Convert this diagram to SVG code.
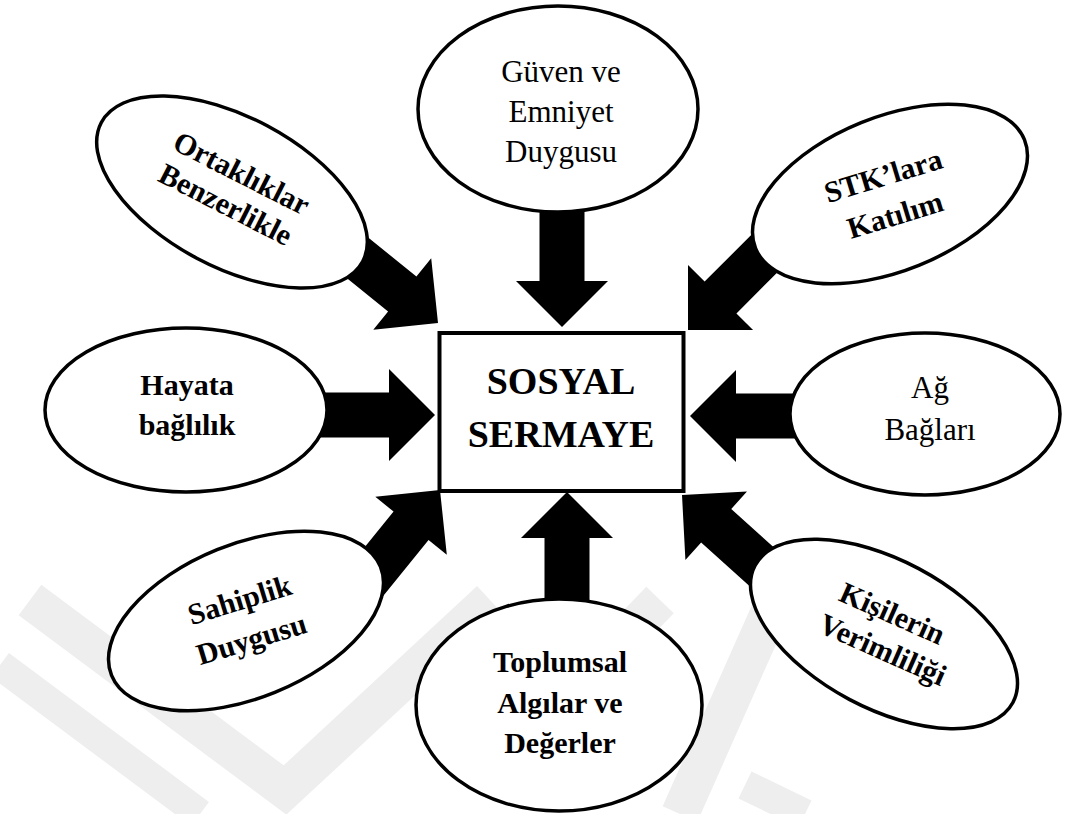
<svg xmlns="http://www.w3.org/2000/svg" width="1065" height="814" viewBox="0 0 1065 814">
<style>
  .wm { fill: none; stroke: #eeeeee; stroke-linejoin: miter; }
  .node ellipse { fill: #ffffff; stroke: #000000; stroke-width: 3.5; }
  .box { fill: #ffffff; stroke: #000000; stroke-width: 4; }
  .t { font-family: "Liberation Serif", "Times New Roman", serif; fill: #000000; text-anchor: middle; }
  .b { font-weight: bold; font-size: 30px; }
  .r { font-weight: normal; font-size: 31px; }
  .big { font-weight: bold; font-size: 38px; }
  .arrow { fill: #000000; }
</style>
<defs>
  <polygon id="arr" points="0,0 -46,-46 -46,-22.5 -120,-22.5 -120,22.5 -46,22.5 -46,46"/>
</defs>
<rect width="1065" height="814" fill="#ffffff"/>
<g id="watermark">
  <polyline class="wm" stroke-width="38" points="30,600 285,790 490,600"/>
  <polyline class="wm" stroke-width="30" points="0,665 200,814"/>
  <polyline class="wm" stroke-width="38" points="660,600 540,725"/>
  <polyline class="wm" stroke-width="38" points="775,600 680,814"/>
  <polyline class="wm" stroke-width="30" points="745,785 805,814"/>
</g>
<g id="connectors">
  <use href="#arr" class="arrow" transform="translate(562,327) rotate(90)"/>
  <use href="#arr" class="arrow" transform="translate(435,415)"/>
  <use href="#arr" class="arrow" transform="translate(690,416) rotate(180)"/>
  <use href="#arr" class="arrow" transform="translate(567,492) rotate(-90)"/>
  <use href="#arr" class="arrow" transform="translate(438,323) rotate(39)"/>
  <use href="#arr" class="arrow" transform="translate(688,330) rotate(135)"/>
  <use href="#arr" class="arrow" transform="translate(440,490) rotate(-51)"/>
  <use href="#arr" class="arrow" transform="translate(682,495) rotate(-138)"/>
</g>
<g id="center">
  <rect class="box" x="439.5" y="333" width="244" height="158"/>
  <text class="t big" x="561" y="394">SOSYAL</text>
  <text class="t big" x="561" y="447">SERMAYE</text>
</g>
<g id="guven" class="node">
  <ellipse cx="558" cy="109" rx="140" ry="103"/>
  <text class="t r" x="561" y="82">Güven ve</text>
  <text class="t r" x="561" y="122">Emniyet</text>
  <text class="t r" x="561" y="162">Duygusu</text>
</g>
<g id="ortakliklar" class="node">
  <ellipse cx="232" cy="192" rx="148" ry="75" transform="rotate(28 232 192)"/>
  <g transform="translate(232,192) rotate(27)">
    <text class="t b" font-size="31" x="0" y="-11">Ortaklıklar</text>
    <text class="t b" font-size="31" x="0" y="24">Benzerlikle</text>
  </g>
</g>
<g id="stk" class="node">
  <ellipse cx="890" cy="194" rx="145" ry="77" transform="rotate(-22 890 194)"/>
  <g transform="translate(889,195) rotate(-17)">
    <text class="t b" x="0" y="-10">STK’lara</text>
    <text class="t b" x="0" y="31">Katılım</text>
  </g>
</g>
<g id="hayata" class="node">
  <ellipse cx="186" cy="410" rx="141" ry="82"/>
  <text class="t b" x="187" y="395">Hayata</text>
  <text class="t b" x="187" y="435">bağlılık</text>
</g>
<g id="ag" class="node">
  <ellipse cx="925" cy="414" rx="135" ry="81"/>
  <text class="t r" font-size="29" x="930" y="398">Ağ</text>
  <text class="t r" font-size="29" x="930" y="440">Bağları</text>
</g>
<g id="sahiplik" class="node">
  <ellipse cx="246" cy="621" rx="145" ry="77" transform="rotate(-22 246 621)"/>
  <g transform="translate(246,621) rotate(-17)">
    <text class="t b" font-size="31" x="0" y="-12">Sahiplik</text>
    <text class="t b" font-size="31" x="0" y="29">Duygusu</text>
  </g>
</g>
<g id="toplumsal" class="node">
  <ellipse cx="559" cy="705" rx="143" ry="106"/>
  <text class="t b" x="560" y="672">Toplumsal</text>
  <text class="t b" x="560" y="713">Algılar ve</text>
  <text class="t b" x="560" y="753">Değerler</text>
</g>
<g id="kisilerin" class="node">
  <ellipse cx="884" cy="634" rx="146" ry="74" transform="rotate(28 884 634)"/>
  <g transform="translate(887,633) rotate(24)">
    <text class="t b" font-size="31" x="-3" y="-10">Kişilerin</text>
    <text class="t b" font-size="31" x="3" y="27">Verimliliği</text>
  </g>
</g>
</svg>
